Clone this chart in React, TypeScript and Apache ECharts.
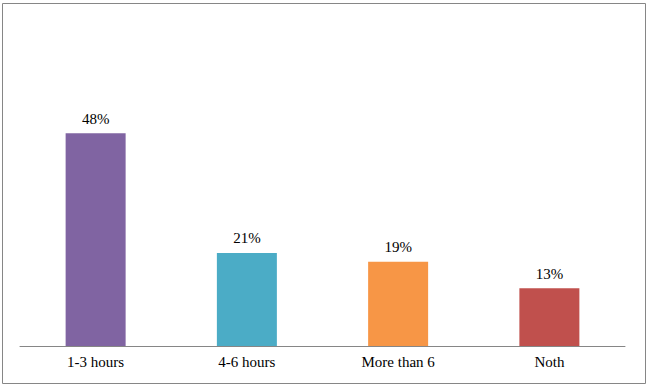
import React, { useEffect, useRef } from "react";
import * as echarts from "echarts";

const categories = ["1-3 hours", "4-6 hours", "More than 6", "Noth"];
const values = [48, 21, 19, 13];
const colors = ["#8064A2", "#4BACC6", "#F79646", "#C0504D"];

const SERIF = "'Liberation Serif', 'Times New Roman', Times, serif";

export default function App() {
  const ref = useRef<HTMLDivElement>(null);
  useEffect(() => {
    document.body.style.margin = "0";
    const chart = echarts.init(ref.current!, null, { renderer: "svg" });
    chart.setOption({
      animation: false,
      backgroundColor: "#ffffff",
      textStyle: { fontFamily: SERIF },
      graphic: [
        {
          type: "rect",
          shape: { x: 2.5, y: 3.5, width: 643, height: 380 },
          style: { fill: "none", stroke: "#868686", lineWidth: 1 },
          silent: true,
        },
      ],
      grid: { left: 20, right: 24, top: 80, bottom: 44 },
      xAxis: {
        type: "category",
        data: categories,
        axisLine: { lineStyle: { color: "#868686", width: 1 } },
        axisTick: { show: false },
        axisLabel: {
          color: "#000",
          fontFamily: SERIF,
          fontSize: 15,
          margin: 8,
        },
      },
      yAxis: {
        type: "value",
        min: 0,
        max: 60,
        show: false,
        splitLine: { show: false },
      },
      series: [
        {
          type: "bar",
          barWidth: 60,
          data: values.map((v, i) => ({ value: v, itemStyle: { color: colors[i] } })),
          label: {
            show: true,
            position: "top",
            formatter: "{c}%",
            color: "#000",
            fontFamily: SERIF,
            fontSize: 15,
            distance: 7,
          },
        },
      ],
    });
    return () => chart.dispose();
  }, []);
  return <div ref={ref} style={{ width: 649, height: 390 }} />;
}
